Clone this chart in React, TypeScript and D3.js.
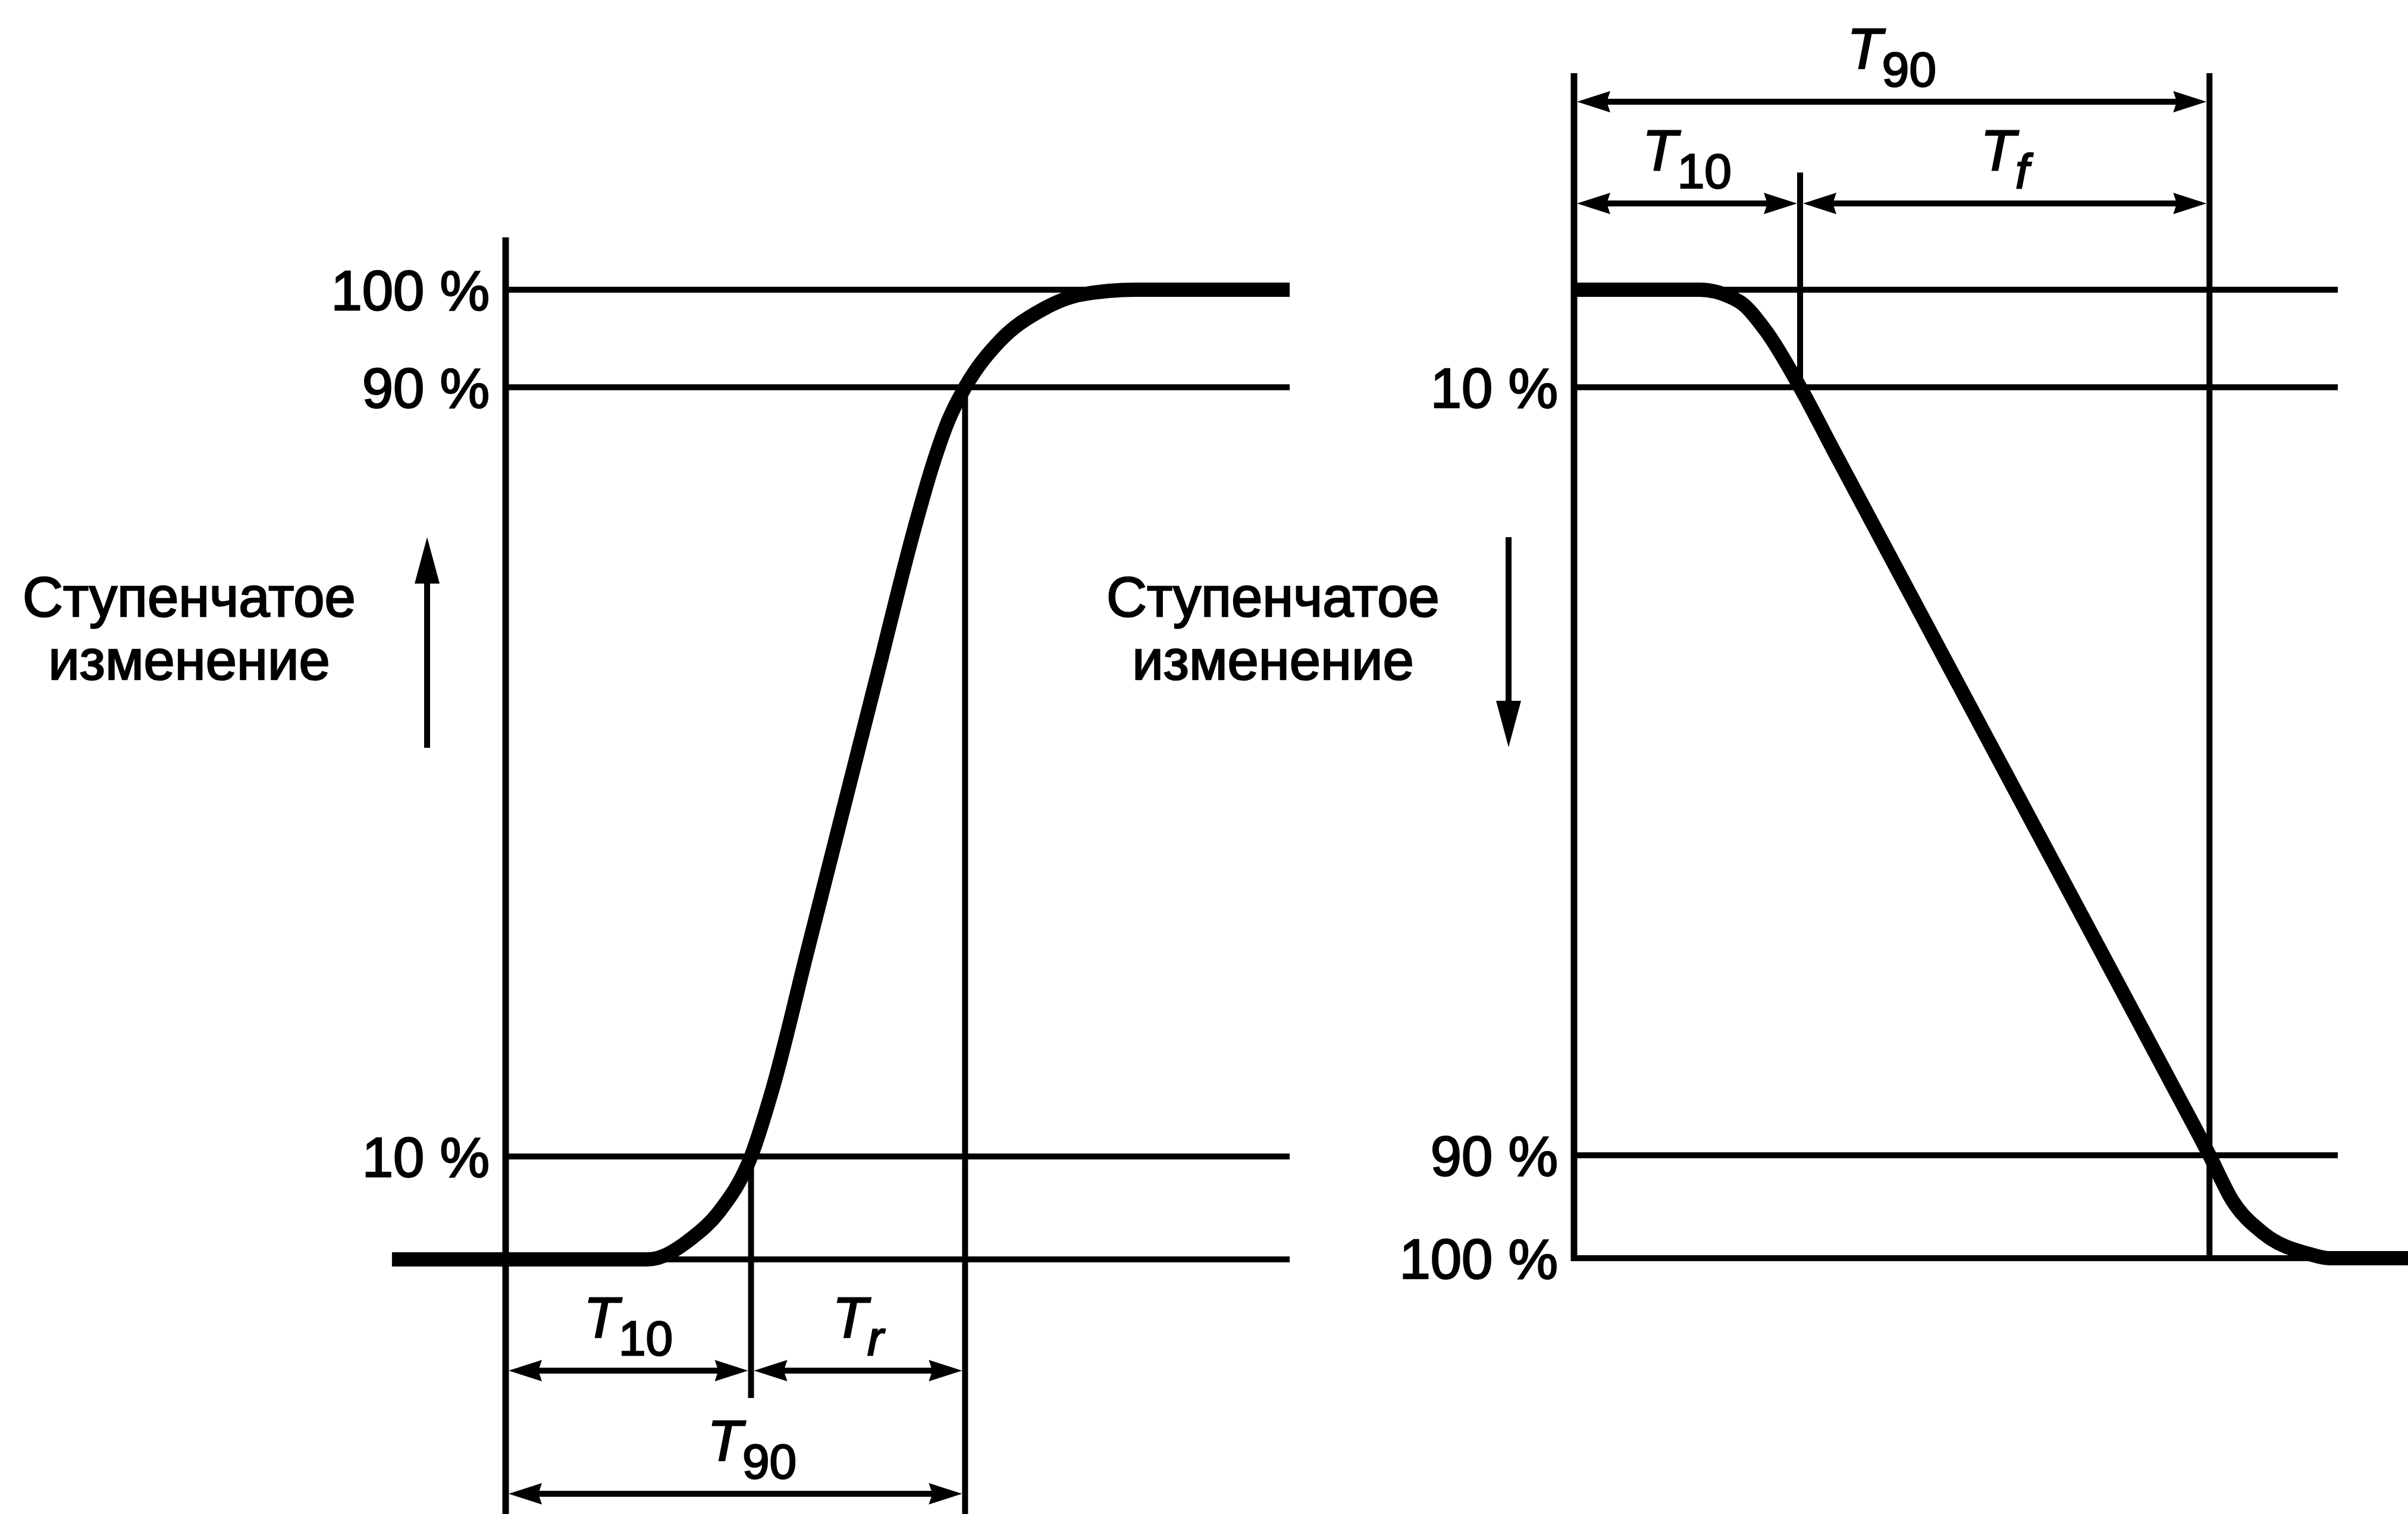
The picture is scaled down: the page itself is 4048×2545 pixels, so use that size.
/**
 * Переходная характеристика: нарастание и спад
 */

import React, { useEffect, useRef } from 'react'
import * as d3 from 'd3'

// уровни горизонтальных линий, %
const levels = [0, 10, 90, 100]

// подписи уровней
const riseLabelLevels = [100, 90, 10]
const riseLabels = ['100 %', '90 %', '10 %']
const fallLabelLevels = [10, 90, 100]
const fallLabels = ['10 %', '90 %', '100 %']

// кривая нарастания: время (усл. ед.) и уровень, %
const riseTime = [-14.5, 18.1, 23.8, 27.3, 31.3, 34.0, 38.5, 43.0, 47.5, 52.0, 54.5, 56.5, 58.6, 63.1, 68.3, 73.4, 80.4, 100]
const riseLevel = [0, 0, 2.1, 4.7, 10, 16.9, 31.4, 45.9, 60.4, 74.9, 82.0, 86.6, 90, 94.8, 97.9, 99.5, 100, 100]
const riseT10 = 31.3
const riseT90 = 58.6

// кривая спада
const fallTime = [0, 16.4, 21.6, 25.1, 29.6, 34.0, 56.4, 78.0, 83.2, 86.2, 90.3, 96.3, 98.9, 109.2]
const fallLevel = [0, 0, 1.2, 4.2, 10, 16.6, 50, 82.2, 90, 94.4, 97.6, 99.6, 100, 100]
const fallT10 = 29.6
const fallT90 = 83.2

const stepText = ['Ступенчатое', 'изменение']

const W = 4048
const H = 2545
const FONT = '"Liberation Sans", Arial, Helvetica, sans-serif'

interface Dim {
  from: number
  to: number
  row: number
  main: string
  sub: string
  dx?: number
}

interface Panel {
  x: d3.ScaleLinear<number, number>
  y: d3.ScaleLinear<number, number>
  time: number[]
  level: number[]
  axisTop: number
  axisBottom: number
  labelLevels: number[]
  labels: string[]
  ext: { t: number; y1: number; y2: number }[]
  dims: Dim[]
  textX: number
  arrowX: number
  arrowFrom: number
  arrowTo: number
}

const head = (x: number, y: number, dx: number, dy: number, len: number, half: number, notch: number) => {
  const px = -dy
  const py = dx
  const bx = x - dx * len
  const by = y - dy * len
  return `M${x},${y}L${bx + px * half},${by + py * half}L${x - dx * (len - notch)},${y - dy * (len - notch)}L${bx - px * half},${by - py * half}Z`
}

const StepResponse = () => {
  const refSvg = useRef<SVGSVGElement>(null)

  const drawPanel = (svg: d3.Selection<SVGSVGElement, unknown, null, undefined>, p: Panel) => {
    const g = svg.append('g')
    const x0 = p.x(0)

    // горизонтальные уровни
    g.selectAll('line.lvl')
      .data(levels)
      .enter()
      .append('line')
      .attr('x1', x0)
      .attr('x2', p.x(100))
      .attr('y1', (d) => p.y(d))
      .attr('y2', (d) => p.y(d))
      .attr('stroke', '#000')
      .attr('stroke-width', 10)

    // ось
    g.append('line')
      .attr('x1', x0)
      .attr('x2', x0)
      .attr('y1', p.axisTop)
      .attr('y2', p.axisBottom)
      .attr('stroke', '#000')
      .attr('stroke-width', 11)

    // выносные линии T10 / T90
    g.selectAll('line.ext')
      .data(p.ext)
      .enter()
      .append('line')
      .attr('x1', (d) => p.x(d.t))
      .attr('x2', (d) => p.x(d.t))
      .attr('y1', (d) => d.y1)
      .attr('y2', (d) => d.y2)
      .attr('stroke', '#000')
      .attr('stroke-width', 10)

    // кривая
    const pts = p.time.map((t, i) => [t, p.level[i]] as [number, number])
    const line = d3
      .line<[number, number]>()
      .x((d) => p.x(d[0]))
      .y((d) => p.y(d[1]))
      .curve(d3.curveMonotoneX)
    g.append('path')
      .datum(pts)
      .attr('d', line)
      .attr('fill', 'none')
      .attr('stroke', '#000')
      .attr('stroke-width', 24)
      .attr('stroke-linejoin', 'round')

    // подписи уровней
    g.selectAll('text.lbl')
      .data(p.labelLevels)
      .enter()
      .append('text')
      .attr('x', x0 - 27)
      .attr('y', (d) => p.y(d) + 34)
      .attr('text-anchor', 'end')
      .attr('font-family', FONT)
      .attr('font-size', 94)
      .attr('stroke', '#000')
      .attr('stroke-width', 2.5)
      .text((d, i) => p.labels[i])

    // размерные стрелки
    p.dims.forEach((d) => {
      const xa = p.x(d.from) + 5
      const xb = p.x(d.to) - 5
      g.append('line')
        .attr('x1', xa + 20)
        .attr('x2', xb - 20)
        .attr('y1', d.row)
        .attr('y2', d.row)
        .attr('stroke', '#000')
        .attr('stroke-width', 10)
      g.append('path').attr('d', head(xa, d.row, -1, 0, 56, 18, 6)).attr('fill', '#000')
      g.append('path').attr('d', head(xb, d.row, 1, 0, 56, 18, 6)).attr('fill', '#000')

      const t = g
        .append('text')
        .attr('x', (p.x(d.from) + p.x(d.to)) / 2 + (d.dx || 0))
        .attr('y', d.row - 56)
        .attr('text-anchor', 'middle')
        .attr('font-family', FONT)
        .attr('font-size', 96)
        .attr('stroke', '#000')
        .attr('stroke-width', 2.5)
      t.append('tspan').attr('font-style', 'italic').text(d.main)
      t.append('tspan')
        .attr('font-size', 82)
        .attr('dy', 30)
        .attr('font-style', /\d/.test(d.sub) ? 'normal' : 'italic')
        .text(d.sub)
    })

    // «Ступенчатое изменение»
    g.selectAll('text.step')
      .data(stepText)
      .enter()
      .append('text')
      .attr('x', p.textX)
      .attr('y', (d, i) => 1036 + i * 106)
      .attr('text-anchor', 'middle')
      .attr('font-family', FONT)
      .attr('font-size', 94)
      .attr('stroke', '#000')
      .attr('stroke-width', 2.5)
      .text((d) => d)

    const dir = p.arrowTo > p.arrowFrom ? 1 : -1
    g.append('line')
      .attr('x1', p.arrowX)
      .attr('x2', p.arrowX)
      .attr('y1', p.arrowFrom)
      .attr('y2', p.arrowTo - dir * 40)
      .attr('stroke', '#000')
      .attr('stroke-width', 10)
    g.append('path').attr('d', head(p.arrowX, p.arrowTo, 0, dir, 78, 21, 0)).attr('fill', '#000')
  }

  const draw = () => {
    const svg = d3.select(refSvg.current as SVGSVGElement)
    svg.selectAll('*').remove()
    svg.append('rect').attr('width', W).attr('height', H).attr('fill', '#fff')

    const xRise = d3.scaleLinear().domain([0, 100]).range([850, 2168])
    const yRise = d3.scaleLinear().domain([0, 10, 90, 100]).range([2117, 1944, 651, 487])
    const xFall = d3.scaleLinear().domain([0, 100]).range([2646, 3930])
    const yFall = d3.scaleLinear().domain([0, 10, 90, 100]).range([487, 651, 1942, 2115])

    drawPanel(svg, {
      x: xRise,
      y: yRise,
      time: riseTime,
      level: riseLevel,
      axisTop: 399,
      axisBottom: H,
      labelLevels: riseLabelLevels,
      labels: riseLabels,
      ext: [
        { t: riseT10, y1: yRise(10), y2: 2350 },
        { t: riseT90, y1: yRise(90), y2: H },
      ],
      dims: [
        { from: 0, to: riseT10, row: 2304, main: 'T', sub: '10' },
        { from: riseT10, to: riseT90, row: 2304, main: 'T', sub: 'r' },
        { from: 0, to: riseT90, row: 2511, main: 'T', sub: '90', dx: 28 },
      ],
      textX: 318,
      arrowX: 718,
      arrowFrom: 1257,
      arrowTo: 903,
    })

    drawPanel(svg, {
      x: xFall,
      y: yFall,
      time: fallTime,
      level: fallLevel,
      axisTop: 123,
      axisBottom: yFall(100) + 5,
      labelLevels: fallLabelLevels,
      labels: fallLabels,
      ext: [
        { t: fallT10, y1: 290, y2: yFall(10) },
        { t: fallT90, y1: 123, y2: yFall(100) },
      ],
      dims: [
        { from: 0, to: fallT90, row: 171, main: 'T', sub: '90' },
        { from: 0, to: fallT10, row: 342, main: 'T', sub: '10' },
        { from: fallT10, to: fallT90, row: 342, main: 'T', sub: 'f' },
      ],
      textX: 2140,
      arrowX: 2536,
      arrowFrom: 903,
      arrowTo: 1256,
    })
  }

  useEffect(() => {
    if (refSvg.current) {
      draw()
    }
  })

  return <svg ref={refSvg} width={W} height={H} style={{ position: 'absolute', left: 0, top: 0, display: 'block' }} />
}

export default StepResponse
